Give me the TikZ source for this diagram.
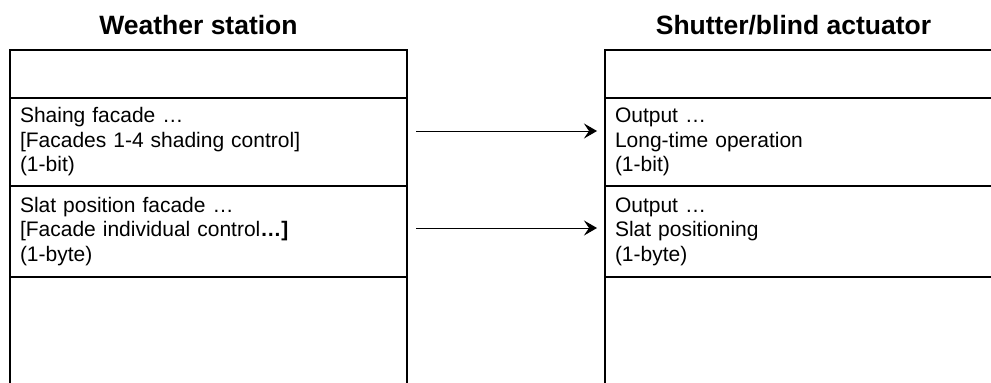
\documentclass[tikz,border=0pt]{standalone}
\usepackage{fontspec}
\setmainfont{Liberation Sans}
\usetikzlibrary{positioning,arrows.meta}

\begin{document}
\begin{tikzpicture}[x=1pt, y=1pt, node distance=0pt,
  every node/.style={font=\fontsize{21}{24.5}\selectfont},
  row/.style={draw, line width=1.2pt, outer sep=0pt, minimum width=397pt, text width=377pt, inner xsep=10pt, inner ysep=0pt, align=left, anchor=north},
  ttl/.style={font=\fontsize{26.5}{30}\selectfont\bfseries, anchor=base, xshift=-10pt, yshift=16pt},
  a/.style={-{Stealth[length=13pt, width=15pt, inset=5pt]}, line width=1pt, shorten <=9pt, shorten >=8pt}]
\useasboundingbox (0,0) rectangle (991,-383);
\clip (0,0) rectangle (991,-383);
% weather station
\node[row, minimum height=48pt] (ws1) at (208.5,-50) {};
\node[row, minimum height=88pt, below=of ws1] (ws2) {Shaing facade …\\{[}Facades 1-4 shading control{]}\\(1-bit)};
\node[row, minimum height=91pt, below=of ws2] (ws3) {Slat position facade …\\{[}Facade individual control{\bfseries …]}\\(1-byte)};
\node[row, minimum height=130pt, below=of ws3] (ws4) {};
% shutter/blind actuator
\node[row, minimum height=48pt] (sb1) at (803.5,-50) {};
\node[row, minimum height=88pt, below=of sb1] (sb2) {Output …\\Long-time operation\\(1-bit)};
\node[row, minimum height=91pt, below=of sb2] (sb3) {Output …\\Slat positioning\\(1-byte)};
\node[row, minimum height=130pt, below=of sb3] (sb4) {};
\node[ttl] (wst) at (ws1.north) {Weather station};
\node[ttl] (sbt) at (sb1.north) {Shutter/blind actuator};
\draw[a] ([yshift=11pt]ws2.east) -- ([yshift=11pt]sb2.west);
\draw[a] ([yshift=3.5pt]ws3.east) -- ([yshift=3.5pt]sb3.west);
\end{tikzpicture}
\end{document}
